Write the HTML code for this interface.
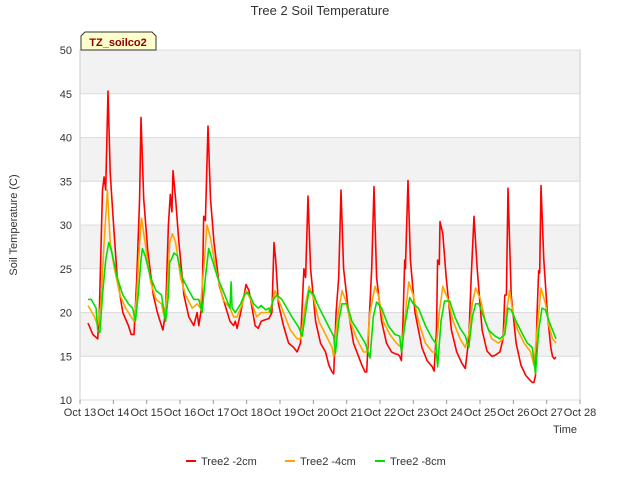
<!DOCTYPE html>
<html><head><meta charset="utf-8"><style>
body{margin:0;background:#fff;font-family:"Liberation Sans",sans-serif}
svg text{font-family:"Liberation Sans",sans-serif}
</style></head><body>
<svg id="c" width="640" height="480" viewBox="0 0 640 480">
<text x="320" y="15" text-anchor="middle" font-size="13" fill="#333">Tree 2 Soil Temperature</text>
<g id="bands"></g><g id="grid"></g>
<g id="yt"></g><g id="xt"></g>
<text transform="translate(17,225) rotate(-90)" text-anchor="middle" font-size="11" fill="#333">Soil Temperature (C)</text>
<text x="565" y="433" text-anchor="middle" font-size="11" fill="#333">Time</text>
<g id="series"></g>
<g><path d="M81,50 L81,36 L85,32 L152,32 L156,36 L156,50 Z" fill="#ffffcc" stroke="#333"/><text x="118" y="46" text-anchor="middle" font-size="11" font-weight="bold" fill="#8b0000">TZ_soilco2</text></g>
<g id="legend"></g>
</svg>
<script>
const yTicks=[10,15,20,25,30,35,40,45,50];
const xTickLabels=["Oct 13","Oct 14","Oct 15","Oct 16","Oct 17","Oct 18","Oct 19","Oct 20","Oct 21","Oct 22","Oct 23","Oct 24","Oct 25","Oct 26","Oct 27","Oct 28"];
const seriesNames=["Tree2 -2cm","Tree2 -4cm","Tree2 -8cm"];
const seriesColors=["#ff0000","#ffa500","#00e000"];
// time calibration knots (sample clock -> actual date, days from Oct 13)
const clockKnots=[13.25,13.87,15.05,16.22,17.28,18.35,19.27,20.27,21.27,22.27,23.3,24.22,25.2,26.25,27.27,27.7];
const dateKnots=[13.24,13.84,14.83,15.79,16.84,17.98,18.82,19.84,20.83,21.82,22.84,23.8,24.82,25.84,26.83,27.28];
const t2=[13.25,13.4,13.55,13.6,13.7,13.75,13.8,13.87,13.95,14.05,14.2,14.4,14.6,14.7,14.8,14.9,15.0,15.05,15.15,15.3,15.5,15.65,15.75,15.85,15.95,16.05,16.12,16.18,16.22,16.3,16.4,16.55,16.7,16.85,16.95,17.0,17.1,17.15,17.2,17.28,17.35,17.45,17.6,17.75,17.9,18.0,18.05,18.1,18.2,18.3,18.35,18.45,18.55,18.65,18.75,18.85,19.0,19.1,19.2,19.27,19.32,19.4,19.55,19.7,19.85,19.95,20.05,20.15,20.2,20.27,20.35,20.5,20.65,20.8,20.9,21.0,21.05,21.12,21.2,21.27,21.35,21.5,21.65,21.8,21.9,22.0,22.05,22.12,22.2,22.27,22.35,22.5,22.65,22.8,22.9,23.0,23.05,23.1,23.15,23.2,23.22,23.3,23.37,23.5,23.7,23.85,24.0,24.05,24.12,24.15,24.2,24.22,24.3,24.4,24.55,24.7,24.85,24.95,25.05,25.12,25.2,25.3,25.45,25.6,25.75,25.85,26.0,26.1,26.15,26.2,26.25,26.35,26.5,26.65,26.8,26.95,27.0,27.05,27.1,27.15,27.2,27.23,27.27,27.35,27.45,27.55,27.6,27.65,27.7];
const v2=[18.8,17.5,17,20,34,35.5,34,45.3,36,31,24,20,18.5,17.5,17.5,24,33,42.3,33,27,22,20,19,18,20,30,33.5,31.5,36.2,33,28,22,19.5,18.5,20,18.5,21,31,30.5,41.3,33,28,23,21,19,18.5,19,18.2,20,22,23.2,22.5,20.5,18.5,18.2,19,19.2,19.3,20,28,26,21,18.5,16.5,16,15.5,16.5,25,24,33.3,25,19,16.5,15.5,14,13.2,13,20,24,34,25,20,16.5,15,14,13.2,13.2,19,25,34.4,24,19,16.5,15.5,15.3,15.2,15,14.5,19,26,25,35.1,26,20,16,14.5,13.8,13.3,18,26,25.5,30.4,29,24,18,15.5,14.2,13.6,17,24,31,25,18,15.6,15,15.1,15.5,17,22,22,34.2,22,16.5,14,12.8,12.2,12,12,12.8,20,24.8,24.5,34.5,26,20,16,15,14.7,14.9];
const t4=[13.25,13.45,13.55,13.65,13.75,13.85,13.95,14.1,14.3,14.5,14.7,14.8,14.9,15.0,15.07,15.2,15.4,15.6,15.8,15.9,16.0,16.1,16.2,16.3,16.45,16.6,16.8,16.95,17.05,17.15,17.25,17.35,17.5,17.7,17.9,18.0,18.1,18.25,18.35,18.5,18.6,18.7,18.85,19.0,19.1,19.2,19.3,19.4,19.55,19.75,19.95,20.05,20.2,20.3,20.45,20.6,20.8,21.0,21.05,21.15,21.3,21.4,21.55,21.75,21.95,22.05,22.15,22.3,22.4,22.55,22.75,22.95,23.1,23.2,23.32,23.45,23.6,23.8,24.0,24.1,24.2,24.3,24.45,24.6,24.8,24.95,25.05,25.15,25.25,25.4,25.55,25.75,25.95,26.1,26.2,26.3,26.4,26.55,26.75,26.95,27.05,27.15,27.27,27.4,27.5,27.6,27.7];
const v4=[20.8,19.5,18.5,21,28,34,28,25,22,20.5,19.5,19,22,28,30.8,28,23.5,21.5,21,19.5,22,28,29,28,24,22,20.5,21,20.5,25,30,28.5,25,21.5,20.5,19.5,19.5,21,22.5,21.5,20.5,19.5,20,20,20,21,22.5,21.5,20,18,17,17,21,23,21.5,19,17.5,16,15,19,22.5,21.5,19,17,15.5,15.5,20,23,22,19,17.5,16.5,16,19,23.5,22,19,16.5,15.5,15.5,20,23,21.5,19,17,16,17.5,21,22.8,21.5,19,17,16.5,17,20,22.5,20,18,16.5,15.5,14,18,22.8,21,18.5,17,16.5];
const t8=[13.25,13.35,13.5,13.55,13.62,13.7,13.8,13.9,14.0,14.2,14.4,14.6,14.75,14.85,14.95,15.05,15.1,15.2,15.4,15.6,15.8,15.95,16.05,16.1,16.15,16.25,16.35,16.5,16.7,16.85,17.0,17.1,17.2,17.3,17.4,17.55,17.7,17.8,17.9,17.93,17.96,18.05,18.2,18.3,18.4,18.5,18.6,18.75,18.85,19.0,19.1,19.15,19.25,19.35,19.5,19.65,19.8,20.0,20.1,20.2,20.3,20.45,20.55,20.75,20.95,21.05,21.1,21.2,21.3,21.45,21.6,21.8,22.0,22.05,22.15,22.25,22.35,22.5,22.7,22.9,23.05,23.1,23.2,23.35,23.45,23.6,23.8,24.0,24.1,24.15,24.25,24.35,24.5,24.65,24.8,24.95,25.05,25.15,25.25,25.35,25.5,25.65,25.85,26.0,26.15,26.25,26.35,26.5,26.7,26.85,27.0,27.1,27.2,27.3,27.4,27.5,27.6,27.7];
const v8=[21.5,21.5,20.5,18,17.7,22,26,28,27,24,22,21,20.5,19,22,26,27.3,26.5,24,22.5,22,19,22,25.8,26,26.8,26.5,24,22.5,21.5,21.5,20,24,27.3,26,24,22.5,21.5,20.5,23.5,20.5,20,21,22,22.3,21.8,21,20.5,20.8,20.3,20.5,20,21.5,22,21.5,20.5,19.5,18.3,17.3,20,22.5,22,21,19.5,18,17.3,15.3,19,21,21,19,17.8,16.5,16,14.8,19.5,21.2,20.5,18.5,17.5,17.3,15.5,18.5,21.7,21,20.5,18.5,17,16.5,13.8,19,21.3,21.3,19.5,18.2,17.3,16,19.5,21,21,19.5,18,17.3,17,17.5,20.5,20.3,19,17.5,16.5,16,13,18,20.5,20.3,19,18,17];
const NS="http://www.w3.org/2000/svg";
const L=80,R=580,T=50,B=400;
function calib(t){
  for(let i=0;i<clockKnots.length-1;i++){
    if(t<=clockKnots[i+1]||i===clockKnots.length-2){
      const f=(t-clockKnots[i])/(clockKnots[i+1]-clockKnots[i]);
      return dateKnots[i]+f*(dateKnots[i+1]-dateKnots[i]);
    }
  }
}
const xs=d=>L+(d-13)*(R-L)/15;
const ys=v=>B-(v-10)*(B-T)/40;
function mk(tag,attrs,parent,txt){const e=document.createElementNS(NS,tag);for(const k in attrs)e.setAttribute(k,attrs[k]);if(txt!==undefined)e.textContent=txt;document.getElementById(parent).appendChild(e);return e;}
for(let i=0;i<yTicks.length-1;i++){
  if(i%2===1){const e=mk('rect',{x:L,y:ys(yTicks[i+1]),width:R-L,height:ys(yTicks[i])-ys(yTicks[i+1]),fill:'#f2f2f2'},'bands');
  
  }
}
mk('rect',{x:L,y:T,width:R-L,height:B-T,fill:'none',stroke:'#ccc'},'bands');
yTicks.forEach(v=>{
  const g=mk('line',{x1:L,x2:R,y1:ys(v),y2:ys(v),stroke:'#dcdcdc'},'grid');
  
  
  const t=mk('text',{x:L-8,y:ys(v)+4,'text-anchor':'end','font-size':11,fill:'#333'},'yt',String(v));
  
  
});
xTickLabels.forEach((s,i)=>{
  const x=xs(13+i);
  mk('line',{x1:x,x2:x,y1:B,y2:B+4,stroke:'#999'},'xt');
  const t=mk('text',{x:x,y:B+16,'text-anchor':'middle','font-size':11,fill:'#333'},'xt',s);
  
  
});
const data=[[t2,v2],[t4,v4],[t8,v8]];
data.forEach((d,k)=>{
  const p=d[0].map((t,i)=>xs(calib(t)).toFixed(1)+','+ys(d[1][i]).toFixed(1)).join(' ');
  const e=mk('polyline',{points:p,fill:'none',stroke:seriesColors[k],'stroke-width':1.6,'stroke-linejoin':'round'},'series');
  
  
});
const lx=[186,285,375];
seriesNames.forEach((s,k)=>{
  const g=mk('g',{},'legend');
  
  
  const ln=document.createElementNS(NS,'line');ln.setAttribute('x1',lx[k]);ln.setAttribute('x2',lx[k]+10);ln.setAttribute('y1',461);ln.setAttribute('y2',461);ln.setAttribute('stroke',seriesColors[k]);ln.setAttribute('stroke-width',2);g.appendChild(ln);
  const tx=document.createElementNS(NS,'text');tx.setAttribute('x',lx[k]+15);tx.setAttribute('y',465);tx.setAttribute('font-size',11);tx.setAttribute('fill','#333');tx.textContent=s;g.appendChild(tx);
});
</script>
</body></html>
